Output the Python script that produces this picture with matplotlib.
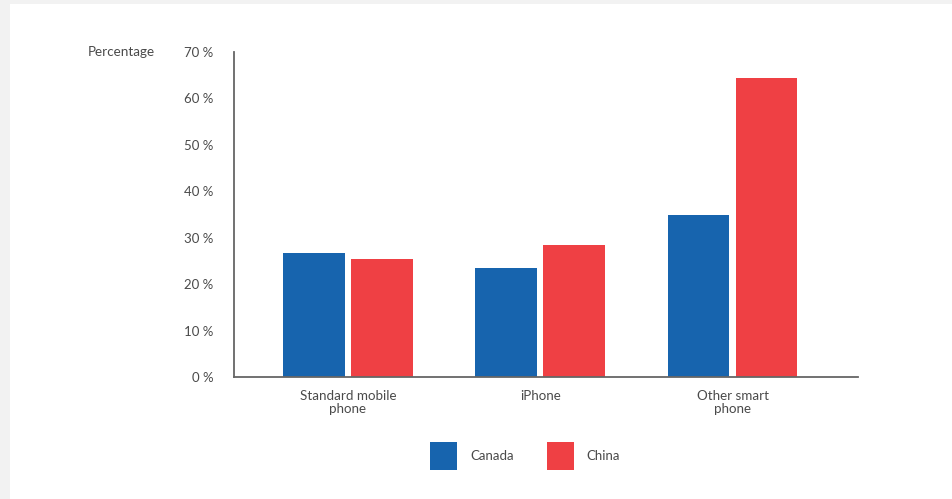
import numpy as np
import matplotlib.pyplot as plt
from matplotlib.patches import Rectangle

plt.rcParams['font.family'] = ['Lato', 'DejaVu Sans']

categories = ['Standard mobile\nphone', 'iPhone', 'Other smart\nphone']
canada = [26.7, 23.5, 35.0]
china = [25.5, 28.5, 64.4]
yticks = [0, 10, 20, 30, 40, 50, 60, 70]

blue = '#1764ae'
red = '#ef4044'
txt = '#4a4a4a'

fig = plt.figure(figsize=(9.53, 4.99), dpi=100)
fig.patch.set_facecolor('#f2f2f2')
# white panel behind everything
fig.patches.append(Rectangle((10 / 953, 0), 1, 1 - 4 / 499, transform=fig.transFigure,
                             facecolor='white', edgecolor='none', zorder=-10))

ax = fig.add_axes([234 / 953, 1 - 377 / 499, (858 - 234) / 953, (377 - 52) / 499])
ax.set_facecolor('none')

x = np.arange(len(categories))
w = 0.32
off = 0.177
ax.bar(x - off, canada, w, color=blue, label='Canada')
ax.bar(x + off, china, w, color=red, label='China')

ax.set_xlim(-0.5916, 2.652)
ax.set_ylim(0, 70)
ax.set_yticks(yticks)
ax.set_yticklabels(['%d %%' % v for v in yticks])
ax.set_xticks(x)
ax.set_xticklabels(categories, linespacing=1.1)
ax.tick_params(axis='y', length=0, pad=15, labelsize=9.5, labelcolor=txt)
ax.tick_params(axis='x', length=0, pad=9.5, labelsize=9.6, labelcolor=txt)

for s in ['top', 'right']:
    ax.spines[s].set_visible(False)
for s in ['left', 'bottom']:
    ax.spines[s].set_color('#666666')
    ax.spines[s].set_linewidth(1.3)

fig.text(155 / 953, 1 - 52 / 499, 'Percentage', ha='right', va='center',
         fontsize=9.7, color=txt)

fig.legend(loc='center', bbox_to_anchor=(525 / 953, 1 - 456 / 499), ncol=2,
           frameon=False, fontsize=9.5, labelcolor=txt,
           handlelength=2.05, handleheight=2.8, handletextpad=1.0,
           columnspacing=2.5)

fig.savefig('out.png', dpi=100, facecolor=fig.get_facecolor())
